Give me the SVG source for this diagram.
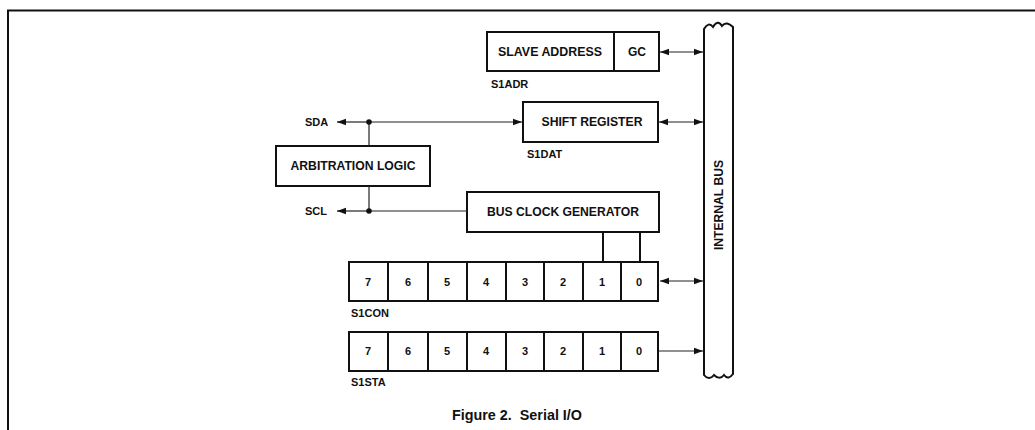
<svg xmlns="http://www.w3.org/2000/svg" width="1035" height="430" viewBox="0 0 1035 430">
<style>
.box{fill:#fff;stroke:#111;stroke-width:2}
.ln{fill:none;stroke:#222;stroke-width:1.2}
.t{font-family:"Liberation Sans",Arial,sans-serif;font-weight:bold;font-size:12px;fill:#111;text-anchor:middle;dominant-baseline:central}
.lbl{font-family:"Liberation Sans",Arial,sans-serif;font-weight:bold;font-size:11px;fill:#111}
.d{font-family:"Liberation Sans",Arial,sans-serif;font-weight:bold;font-size:11px;fill:#111;text-anchor:middle;dominant-baseline:central}
</style>
<defs>
<marker id="ah" viewBox="0 0 10 10" refX="10" refY="5" markerWidth="9" markerHeight="9" markerUnits="userSpaceOnUse" orient="auto-start-reverse">
<path d="M0,1.5 L10,5 L0,8.5 z" fill="#111"/>
</marker>
</defs>
<rect width="1035" height="430" fill="#fff"/>
<path d="M8,430 V10.5 H1035" fill="none" stroke="#111" stroke-width="2"/>

<g id="internal-bus">
<path class="box" d="M704,375 V29 C707,24 710,23 713,27 C716,22 719,21 722,26 C725,22 729,23 733,27 V374 C730,378 727,379 724,375 C721,379 717,378 714,375 C711,379 707,379 704,375 z"/>
<text class="t" transform="translate(719,205) rotate(-90)" textLength="90" lengthAdjust="spacingAndGlyphs">INTERNAL BUS</text>
</g>

<g id="s1adr">
<rect class="box" x="487" y="32" width="172" height="39"/>
<line class="box" x1="614" y1="32" x2="614" y2="71"/>
<text class="t" x="550" y="52" textLength="104" lengthAdjust="spacingAndGlyphs">SLAVE ADDRESS</text>
<text class="t" x="637" y="52">GC</text>
<text class="lbl" x="491" y="88">S1ADR</text>
</g>

<g id="s1dat">
<rect class="box" x="523" y="102" width="135" height="40"/>
<text class="t" x="592" y="122" textLength="101" lengthAdjust="spacingAndGlyphs">SHIFT REGISTER</text>
<text class="lbl" x="527" y="158">S1DAT</text>
</g>

<g id="arbitration">
<rect class="box" x="276" y="146" width="154" height="40"/>
<text class="t" x="353" y="166" textLength="125" lengthAdjust="spacingAndGlyphs">ARBITRATION LOGIC</text>
</g>

<g id="bus-clock">
<rect class="box" x="467" y="192" width="192" height="40"/>
<text class="t" x="563" y="212" textLength="152" lengthAdjust="spacingAndGlyphs">BUS CLOCK GENERATOR</text>
</g>

<g id="s1con">
<rect class="box" x="349" y="262" width="309" height="39"/>
<path class="box" d="M388,262V301M428,262V301M467,262V301M506,262V301M544,262V301M583,262V301M621,262V301"/>
<text class="d" x="368" y="282">7</text>
<text class="d" x="408" y="282">6</text>
<text class="d" x="447" y="282">5</text>
<text class="d" x="486" y="282">4</text>
<text class="d" x="525" y="282">3</text>
<text class="d" x="563" y="282">2</text>
<text class="d" x="602" y="282">1</text>
<text class="d" x="639" y="282">0</text>
<text class="lbl" x="351" y="317">S1CON</text>
</g>

<g id="s1sta">
<rect class="box" x="349" y="332" width="309" height="39"/>
<path class="box" d="M388,332V371M428,332V371M467,332V371M506,332V371M544,332V371M583,332V371M621,332V371"/>
<text class="d" x="368" y="351">7</text>
<text class="d" x="408" y="351">6</text>
<text class="d" x="447" y="351">5</text>
<text class="d" x="486" y="351">4</text>
<text class="d" x="525" y="351">3</text>
<text class="d" x="563" y="351">2</text>
<text class="d" x="602" y="351">1</text>
<text class="d" x="639" y="351">0</text>
<text class="lbl" x="351" y="386">S1STA</text>
</g>

<g id="sda-scl">
<text class="lbl" x="305" y="126">SDA</text>
<text class="lbl" x="305" y="215">SCL</text>
</g>

<g id="connectors">
<line class="ln" x1="660" y1="52" x2="703" y2="52" marker-start="url(#ah)" marker-end="url(#ah)"/>
<line class="ln" x1="659" y1="122" x2="703" y2="122" marker-start="url(#ah)" marker-end="url(#ah)"/>
<line class="ln" x1="660" y1="281" x2="703" y2="281" marker-start="url(#ah)" marker-end="url(#ah)"/>
<line class="ln" x1="659" y1="351" x2="703" y2="351" marker-end="url(#ah)"/>
<line class="ln" x1="369" y1="122" x2="337" y2="122" marker-end="url(#ah)"/>
<line class="ln" x1="369" y1="122" x2="522" y2="122" marker-end="url(#ah)"/>
<line class="ln" x1="369" y1="122" x2="369" y2="146"/>
<line class="ln" x1="369" y1="186" x2="369" y2="211"/>
<line class="ln" x1="369" y1="211" x2="337" y2="211" marker-end="url(#ah)"/>
<line class="ln" x1="369" y1="211" x2="467" y2="211"/>
<circle cx="369" cy="122" r="2.8" fill="#111"/>
<circle cx="369" cy="211" r="2.8" fill="#111"/>
<line class="box" x1="603" y1="232" x2="603" y2="262"/>
<line class="box" x1="640" y1="232" x2="640" y2="262"/>
</g>

<text x="517" y="420" font-family="'Liberation Sans',Arial,sans-serif" font-weight="bold" font-size="14" fill="#111" text-anchor="middle" textLength="130" lengthAdjust="spacingAndGlyphs" xml:space="preserve">Figure 2.  Serial I/O</text>
</svg>
